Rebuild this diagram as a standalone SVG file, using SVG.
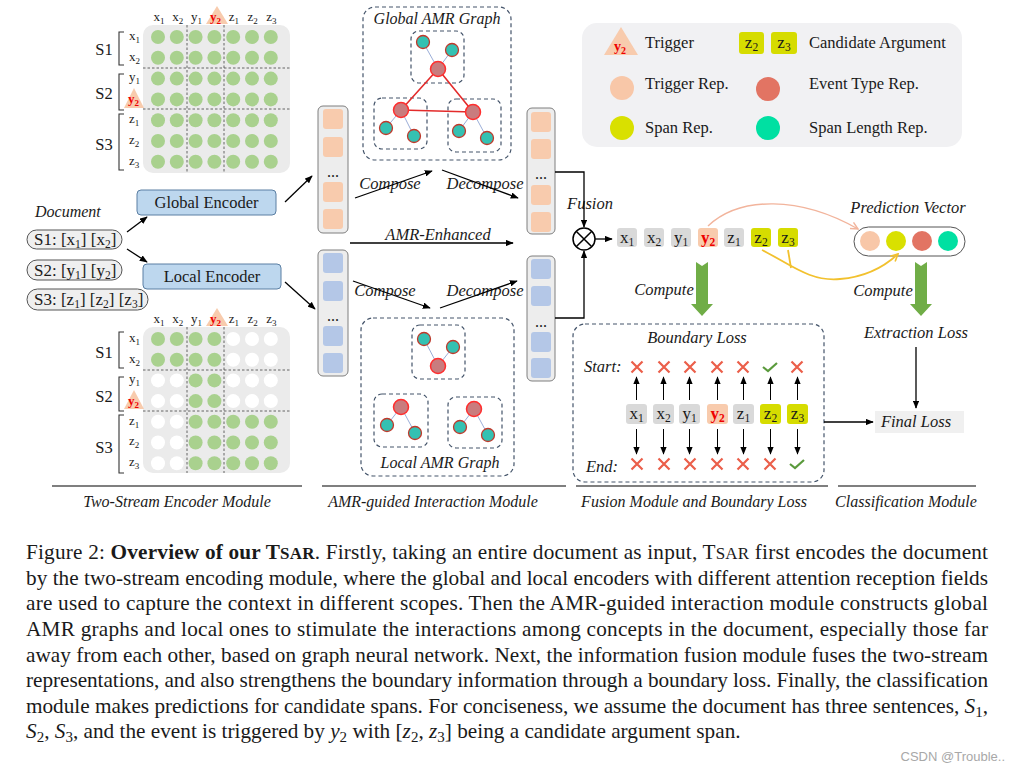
<svg xmlns="http://www.w3.org/2000/svg" xmlns:xlink="http://www.w3.org/1999/xlink" width="1017" height="771" viewBox="0 0 1017 771">
<style>
text{font-family:"Liberation Serif","Times New Roman",serif;fill:#1a1a1a}
.i{font-style:italic}
.m{font-size:13px}
.s{font-size:9px}
.gc{fill:#a9d18e}
.wc{fill:#ffffff}
.bg{fill:#ebebeb}
.tri{fill:#f8cbad}
.red{fill:#ee0000;font-weight:bold}
.grid{stroke:#555;stroke-width:0.9;stroke-dasharray:2.5 2;fill:none}
.br{stroke:#333;stroke-width:1.1;fill:none}
.dash{fill:none;stroke:#44546a;stroke-width:1.2;stroke-dasharray:4 3}
.rn{fill:#c97c7e;stroke:#ff2e2e;stroke-width:1.5}
.tn{fill:#34c1b2;stroke:#c0392b;stroke-width:1.3}
.re{stroke:#e32b2b;stroke-width:1.6}
.be{stroke:#8ea4d2;stroke-width:0.9}
.vec{fill:#ededed;stroke:#7f7f7f;stroke-width:1}
.os{fill:#f8cbad}
.bs{fill:#b4c7e7}
.ln{stroke:#000;stroke-width:1.3;fill:none}
.la{stroke:#000;stroke-width:1;fill:none}
.tok{fill:#d9d9d9}
.tky{fill:#f8cbad}
.tkz{fill:#d6dc00}
.enc{fill:#bdd7ee;stroke:#5b7fa3;stroke-width:1}
.pill{fill:#efefef;stroke:#555;stroke-width:1}
.xm{stroke:#eb5f4a;stroke-width:2.2;fill:none}
.ck{stroke:#5a9a3c;stroke-width:2.2;fill:none}
.ga{fill:#70ad47}
.cap{font-size:21.25px}
.lb{font-size:16.5px;font-style:italic}
.tk{font-size:17px}
.tks{font-size:11.5px}
</style>
<defs>
<marker id="ah" viewBox="0 0 10 8" refX="9" refY="4" markerWidth="8" markerHeight="6.4" markerUnits="userSpaceOnUse" orient="auto"><path d="M0,0 L10,4 L0,8 z" fill="#000"/></marker>
<marker id="ahO" viewBox="0 0 10 10" refX="9" refY="5" markerWidth="9" markerHeight="9" markerUnits="userSpaceOnUse" orient="auto"><path d="M1,1 L9,5 L1,9" fill="none" stroke="#f2b49c" stroke-width="1.6"/></marker>
<marker id="ahY" viewBox="0 0 10 10" refX="9" refY="5" markerWidth="9" markerHeight="9" markerUnits="userSpaceOnUse" orient="auto"><path d="M1,1 L9,5 L1,9" fill="none" stroke="#f2c12e" stroke-width="1.8"/></marker>
<g id="rowG"><circle cx="158" cy="0" r="7" class="gc"/><circle cx="176.8" cy="0" r="7" class="gc"/><circle cx="195.6" cy="0" r="7" class="gc"/><circle cx="214.4" cy="0" r="7" class="gc"/><circle cx="233.2" cy="0" r="7" class="gc"/><circle cx="252" cy="0" r="7" class="gc"/><circle cx="270.8" cy="0" r="7" class="gc"/></g>
<g id="rowA"><circle cx="158" cy="0" r="7" class="gc"/><circle cx="176.8" cy="0" r="7" class="gc"/><circle cx="195.6" cy="0" r="7" class="gc"/><circle cx="214.4" cy="0" r="7" class="gc"/><circle cx="233.2" cy="0" r="7" class="wc"/><circle cx="252" cy="0" r="7" class="wc"/><circle cx="270.8" cy="0" r="7" class="wc"/></g>
<g id="rowB"><circle cx="158" cy="0" r="7" class="wc"/><circle cx="176.8" cy="0" r="7" class="wc"/><circle cx="195.6" cy="0" r="7" class="gc"/><circle cx="214.4" cy="0" r="7" class="gc"/><circle cx="233.2" cy="0" r="7" class="wc"/><circle cx="252" cy="0" r="7" class="wc"/><circle cx="270.8" cy="0" r="7" class="wc"/></g>
<g id="rowC"><circle cx="158" cy="0" r="7" class="wc"/><circle cx="176.8" cy="0" r="7" class="wc"/><circle cx="195.6" cy="0" r="7" class="gc"/><circle cx="214.4" cy="0" r="7" class="gc"/><circle cx="233.2" cy="0" r="7" class="gc"/><circle cx="252" cy="0" r="7" class="gc"/><circle cx="270.8" cy="0" r="7" class="gc"/></g>
<g id="xmark"><path d="M-5.5,-5.5 L5.5,5.5 M5.5,-5.5 L-5.5,5.5" class="xm"/></g>
<g id="check"><path d="M-7,0 L-2,4 L7,-4" class="ck"/></g>
</defs>
<rect width="1017" height="771" fill="#ffffff"/>

<!-- Global attention matrix -->
<g id="global-matrix">
<rect x="143" y="25" width="147" height="148" rx="10" class="bg"/>
<use xlink:href="#rowG" y="37"/><use xlink:href="#rowG" y="57.8"/><use xlink:href="#rowG" y="78.6"/><use xlink:href="#rowG" y="99.4"/><use xlink:href="#rowG" y="120.2"/><use xlink:href="#rowG" y="141"/><use xlink:href="#rowG" y="161.8"/>
<path d="M187,25 V173 M224,25 V173 M143,68 H290 M143,109 H290" class="grid"/>
<polygon points="217,6 206,24 228,24" class="tri"/>
<text class="m" x="153.5" y="21">x<tspan class="s" dy="3">1</tspan></text>
<text class="m" x="172.3" y="21">x<tspan class="s" dy="3">2</tspan></text>
<text class="m" x="191.1" y="21">y<tspan class="s" dy="3">1</tspan></text>
<text class="m red" x="210" y="21">y<tspan class="s" dy="3">2</tspan></text>
<text class="m" x="228.7" y="21">z<tspan class="s" dy="3">1</tspan></text>
<text class="m" x="247.5" y="21">z<tspan class="s" dy="3">2</tspan></text>
<text class="m" x="266.3" y="21">z<tspan class="s" dy="3">3</tspan></text>
<text class="m" x="129" y="40">x<tspan class="s" dy="3">1</tspan></text>
<text class="m" x="129" y="61">x<tspan class="s" dy="3">2</tspan></text>
<text class="m" x="129" y="81">y<tspan class="s" dy="3">1</tspan></text>
<polygon points="134,88 124,108 144,108" class="tri"/>
<text class="m red" x="128" y="103">y<tspan class="s" dy="3">2</tspan></text>
<text class="m" x="129" y="123">z<tspan class="s" dy="3">1</tspan></text>
<text class="m" x="129" y="144">z<tspan class="s" dy="3">2</tspan></text>
<text class="m" x="129" y="165">z<tspan class="s" dy="3">3</tspan></text>
<path d="M124,32 H119 V65 H124 M124,74 H119 V110 H124 M124,114 H119 V170 H124" class="br"/>
<text x="104" y="55" font-size="16.5" text-anchor="middle">S1</text>
<text x="104" y="99" font-size="16.5" text-anchor="middle">S2</text>
<text x="104" y="150" font-size="16.5" text-anchor="middle">S3</text>
</g>

<!-- Local attention matrix -->
<g id="local-matrix">
<rect x="143" y="327" width="147" height="146" rx="10" class="bg"/>
<use xlink:href="#rowA" y="339"/><use xlink:href="#rowA" y="359.7"/><use xlink:href="#rowB" y="380.4"/><use xlink:href="#rowB" y="401.1"/><use xlink:href="#rowC" y="421.8"/><use xlink:href="#rowC" y="442.5"/><use xlink:href="#rowC" y="463.2"/>
<path d="M187,327 V473 M224,327 V473 M143,370 H290 M143,411 H290" class="grid"/>
<polygon points="217,308 206,326 228,326" class="tri"/>
<text class="m" x="153.5" y="323">x<tspan class="s" dy="3">1</tspan></text>
<text class="m" x="172.3" y="323">x<tspan class="s" dy="3">2</tspan></text>
<text class="m" x="191.1" y="323">y<tspan class="s" dy="3">1</tspan></text>
<text class="m red" x="210" y="323">y<tspan class="s" dy="3">2</tspan></text>
<text class="m" x="228.7" y="323">z<tspan class="s" dy="3">1</tspan></text>
<text class="m" x="247.5" y="323">z<tspan class="s" dy="3">2</tspan></text>
<text class="m" x="266.3" y="323">z<tspan class="s" dy="3">3</tspan></text>
<text class="m" x="129" y="342">x<tspan class="s" dy="3">1</tspan></text>
<text class="m" x="129" y="363">x<tspan class="s" dy="3">2</tspan></text>
<text class="m" x="129" y="383">y<tspan class="s" dy="3">1</tspan></text>
<polygon points="134,390 124,409 144,409" class="tri"/>
<text class="m red" x="128" y="405">y<tspan class="s" dy="3">2</tspan></text>
<text class="m" x="129" y="425">z<tspan class="s" dy="3">1</tspan></text>
<text class="m" x="129" y="445">z<tspan class="s" dy="3">2</tspan></text>
<text class="m" x="129" y="466">z<tspan class="s" dy="3">3</tspan></text>
<path d="M124,332 H119 V368 H124 M124,377 H119 V411 H124 M124,415 H119 V473 H124" class="br"/>
<text x="104" y="358" font-size="16.5" text-anchor="middle">S1</text>
<text x="104" y="402" font-size="16.5" text-anchor="middle">S2</text>
<text x="104" y="453" font-size="16.5" text-anchor="middle">S3</text>
</g>

<!-- Document -->
<g id="document">
<text class="i" x="35" y="217" font-size="16">Document</text>
<rect x="27" y="230" width="95" height="19" rx="9.5" class="pill"/>
<text x="34" y="245" font-size="17">S1: [x<tspan font-size="11.5" dy="3">1</tspan><tspan dy="-3">] [x</tspan><tspan font-size="11.5" dy="3">2</tspan><tspan dy="-3">]</tspan></text>
<rect x="27" y="260" width="95" height="20" rx="10" class="pill"/>
<text x="34" y="275.5" font-size="17">S2: [y<tspan font-size="11.5" dy="3">1</tspan><tspan dy="-3">] [y</tspan><tspan font-size="11.5" dy="3">2</tspan><tspan dy="-3">]</tspan></text>
<rect x="27" y="289" width="121" height="21" rx="10.5" class="pill"/>
<text x="34" y="305" font-size="17">S3: [z<tspan font-size="11.5" dy="3">1</tspan><tspan dy="-3">] [z</tspan><tspan font-size="11.5" dy="3">2</tspan><tspan dy="-3">] [z</tspan><tspan font-size="11.5" dy="3">3</tspan><tspan dy="-3">]</tspan></text>
</g>

<g id="global-encoder">
<rect x="137" y="190" width="139" height="25" rx="4" class="enc"/>
<text x="206.5" y="208" font-size="16.5" text-anchor="middle">Global Encoder</text>
</g>
<g id="local-encoder">
<rect x="143" y="264" width="138" height="25" rx="4" class="enc"/>
<text x="212" y="282" font-size="16.5" text-anchor="middle">Local Encoder</text>
</g>

<!-- Vectors -->
<g id="global-vector-in">
<rect x="318" y="106" width="30" height="127" rx="5" class="vec"/>
<rect x="323" y="109" width="20" height="20" rx="3" class="os"/>
<rect x="323" y="137" width="20" height="20" rx="3" class="os"/>
<text x="333" y="177" font-size="16" text-anchor="middle">...</text>
<rect x="323" y="182" width="20" height="20" rx="3" class="os"/>
<rect x="323" y="209" width="20" height="20" rx="3" class="os"/>
</g>
<g id="local-vector-in">
<rect x="318" y="250" width="30" height="126" rx="5" class="vec"/>
<rect x="323" y="253" width="20" height="20" rx="3" class="bs"/>
<rect x="323" y="281" width="20" height="20" rx="3" class="bs"/>
<text x="333" y="321" font-size="16" text-anchor="middle">...</text>
<rect x="323" y="326" width="20" height="20" rx="3" class="bs"/>
<rect x="323" y="353" width="20" height="20" rx="3" class="bs"/>
</g>
<g id="global-vector-out">
<rect x="527" y="108" width="28" height="126" rx="5" class="vec"/>
<rect x="531" y="112" width="20" height="20" rx="3" class="os"/>
<rect x="531" y="139" width="20" height="20" rx="3" class="os"/>
<text x="541" y="179" font-size="16" text-anchor="middle">...</text>
<rect x="531" y="185" width="20" height="20" rx="3" class="os"/>
<rect x="531" y="212" width="20" height="20" rx="3" class="os"/>
</g>
<g id="local-vector-out">
<rect x="527" y="256" width="28" height="125" rx="5" class="vec"/>
<rect x="531" y="259" width="20" height="20" rx="3" class="bs"/>
<rect x="531" y="286" width="20" height="20" rx="3" class="bs"/>
<text x="541" y="327" font-size="16" text-anchor="middle">...</text>
<rect x="531" y="332" width="20" height="20" rx="3" class="bs"/>
<rect x="531" y="358" width="20" height="20" rx="3" class="bs"/>
</g>

<!-- Global AMR graph -->
<g id="global-amr-graph">
<rect x="363" y="7" width="148" height="153" rx="12" class="dash"/>
<text class="i" x="437" y="24" font-size="16" text-anchor="middle">Global AMR Graph</text>
<rect x="411" y="31" width="53" height="52" rx="8" class="dash"/>
<rect x="374" y="98" width="53" height="51" rx="8" class="dash"/>
<rect x="448" y="99" width="53" height="53" rx="8" class="dash"/>
<path d="M438,69 L401,110 M438,69 L473,112 M401,110 L473,112" class="re"/>
<path d="M438,69 L423,42 M438,69 L452,50 M401,110 L386,128 M401,110 L414,136 M473,112 L459,131 M473,112 L487,138" class="be"/>
<circle cx="423" cy="42" r="6.5" class="tn"/><circle cx="452" cy="50" r="6.5" class="tn"/><circle cx="438" cy="69" r="7.5" class="rn"/>
<circle cx="401" cy="110" r="7.5" class="rn"/><circle cx="386" cy="128" r="6.5" class="tn"/><circle cx="414" cy="136" r="6.5" class="tn"/>
<circle cx="473" cy="112" r="7.5" class="rn"/><circle cx="459" cy="131" r="6.5" class="tn"/><circle cx="487" cy="138" r="6.5" class="tn"/>
</g>

<!-- Local AMR graph -->
<g id="local-amr-graph">
<rect x="361" y="318" width="153" height="158" rx="12" class="dash"/>
<rect x="412" y="325" width="53" height="54" rx="8" class="dash"/>
<rect x="374" y="394" width="54" height="53" rx="8" class="dash"/>
<rect x="448" y="397" width="54" height="51" rx="8" class="dash"/>
<path d="M438,366 L424,339 M438,366 L453,347 M401,407 L387,425 M401,407 L415,433 M474,409 L460,427 M474,409 L488,435" class="be"/>
<circle cx="424" cy="339" r="6.5" class="tn"/><circle cx="453" cy="347" r="6.5" class="tn"/><circle cx="438" cy="366" r="7.5" class="rn"/>
<circle cx="401" cy="407" r="7.5" class="rn"/><circle cx="387" cy="425" r="6.5" class="tn"/><circle cx="415" cy="433" r="6.5" class="tn"/>
<circle cx="474" cy="409" r="7.5" class="rn"/><circle cx="460" cy="427" r="6.5" class="tn"/><circle cx="488" cy="435" r="6.5" class="tn"/>
<text class="i" x="440" y="468" font-size="16" text-anchor="middle">Local AMR Graph</text>
</g>

<!-- Legend -->
<g id="legend">
<rect x="582" y="23" width="380" height="124" rx="15" fill="#f1f1f3"/>
<polygon points="621,27 604,55 638,55" class="tri"/>
<text class="red" x="614" y="51" font-size="14">y<tspan font-size="10" dy="3">2</tspan></text>
<text x="645" y="48" font-size="16.5">Trigger</text>
<rect x="739" y="32" width="25" height="22" rx="3" class="tkz"/>
<text x="751.5" y="48" font-size="17" text-anchor="middle">z<tspan font-size="11.5" dy="3">2</tspan></text>
<rect x="771" y="32" width="26" height="22" rx="3" class="tkz"/>
<text x="784" y="48" font-size="17" text-anchor="middle">z<tspan font-size="11.5" dy="3">3</tspan></text>
<text x="809" y="48" font-size="16.5">Candidate Argument</text>
<circle cx="622" cy="88" r="12" fill="#f8c7a8"/>
<text x="645" y="89" font-size="16.5">Trigger Rep.</text>
<circle cx="768" cy="89" r="12" fill="#e27463"/>
<text x="809" y="89" font-size="16.5">Event Type Rep.</text>
<circle cx="622" cy="128" r="12" fill="#d9e000"/>
<text x="645" y="133" font-size="16.5">Span Rep.</text>
<circle cx="768" cy="128" r="12" fill="#00e0a2"/>
<text x="809" y="133" font-size="16.5">Span Length Rep.</text>
</g>

<!-- Interaction labels -->
<g id="interaction-labels">
<text class="lb" x="390" y="189" text-anchor="middle">Compose</text>
<text class="lb" x="485" y="189" text-anchor="middle">Decompose</text>
<text class="lb" x="438" y="240" text-anchor="middle">AMR-Enhanced</text>
<text class="lb" x="385" y="296" text-anchor="middle">Compose</text>
<text class="lb" x="485" y="296" text-anchor="middle">Decompose</text>
</g>

<!-- Fusion -->
<g id="fusion-op">
<circle cx="584" cy="239" r="11" fill="#fff" stroke="#000" stroke-width="1.5"/>
<path d="M576.2,231.2 L591.8,246.8 M591.8,231.2 L576.2,246.8" stroke="#000" stroke-width="1.5"/>
<text class="lb" x="590" y="209" text-anchor="middle">Fusion</text>
</g>

<g id="fused-tokens">
<rect x="617" y="228" width="20" height="19" rx="3" class="tok"/>
<text class="tk" x="627" y="243" text-anchor="middle">x<tspan class="tks" dy="3">1</tspan></text>
<rect x="644" y="228" width="20" height="19" rx="3" class="tok"/>
<text class="tk" x="654" y="243" text-anchor="middle">x<tspan class="tks" dy="3">2</tspan></text>
<rect x="671" y="228" width="20" height="19" rx="3" class="tok"/>
<text class="tk" x="681" y="243" text-anchor="middle">y<tspan class="tks" dy="3">1</tspan></text>
<rect x="698" y="228" width="20" height="19" rx="3" class="tky"/>
<text class="tk red" x="708" y="243" text-anchor="middle">y<tspan class="tks" dy="3">2</tspan></text>
<rect x="724" y="228" width="20" height="19" rx="3" class="tok"/>
<text class="tk" x="734" y="243" text-anchor="middle">z<tspan class="tks" dy="3">1</tspan></text>
<rect x="751" y="228" width="20" height="19" rx="3" class="tkz"/>
<text class="tk" x="761" y="243" text-anchor="middle">z<tspan class="tks" dy="3">2</tspan></text>
<rect x="778" y="228" width="20" height="19" rx="3" class="tkz"/>
<text class="tk" x="788" y="243" text-anchor="middle">z<tspan class="tks" dy="3">3</tspan></text>
</g>

<g id="prediction-vector">
<text class="lb" x="908" y="213" font-size="17" text-anchor="middle">Prediction Vector</text>
<rect x="854" y="227" width="111" height="29" rx="14.5" fill="#fff" stroke="#555" stroke-width="1"/>
<circle cx="870" cy="241" r="10" fill="#f8c7a8"/>
<circle cx="896" cy="241" r="10" fill="#d9e000"/>
<circle cx="922" cy="241" r="10" fill="#e27463"/>
<circle cx="948" cy="241" r="10" fill="#00e0a2"/>
</g>

<g id="compute-arrows">
<polygon points="696,262 702,266 708,262 708,304 713,304 702,316 691,304 696,304" class="ga"/>
<text class="lb" x="664" y="295" text-anchor="middle">Compute</text>
<polygon points="915,262 921,266 927,262 927,304 932,304 921,316 910,304 915,304" class="ga"/>
<text class="lb" x="883" y="296" text-anchor="middle">Compute</text>
</g>

<!-- Boundary loss -->
<g id="boundary-loss">
<rect x="573" y="324" width="251" height="158" rx="12" class="dash"/>
<text class="lb" x="697" y="343" text-anchor="middle">Boundary Loss</text>
<text class="lb" x="584" y="372">Start:</text>
<text class="lb" x="586" y="472">End:</text>
<use xlink:href="#xmark" x="637" y="367"/><use xlink:href="#xmark" x="664" y="367"/><use xlink:href="#xmark" x="690" y="367"/><use xlink:href="#xmark" x="717" y="367"/><use xlink:href="#xmark" x="743" y="367"/><use xlink:href="#check" x="770" y="367"/><use xlink:href="#xmark" x="797" y="367"/>
<use xlink:href="#xmark" x="637" y="464"/><use xlink:href="#xmark" x="664" y="464"/><use xlink:href="#xmark" x="690" y="464"/><use xlink:href="#xmark" x="717" y="464"/><use xlink:href="#xmark" x="743" y="464"/><use xlink:href="#xmark" x="770" y="464"/><use xlink:href="#check" x="797" y="464"/>
<rect x="626" y="404" width="21" height="20" rx="3" class="tok"/>
<text class="tk" x="636.5" y="419" text-anchor="middle">x<tspan class="tks" dy="3">1</tspan></text>
<rect x="653" y="404" width="21" height="20" rx="3" class="tok"/>
<text class="tk" x="663.5" y="419" text-anchor="middle">x<tspan class="tks" dy="3">2</tspan></text>
<rect x="679" y="404" width="21" height="20" rx="3" class="tok"/>
<text class="tk" x="689.5" y="419" text-anchor="middle">y<tspan class="tks" dy="3">1</tspan></text>
<rect x="707" y="404" width="21" height="20" rx="3" class="tky"/>
<text class="tk red" x="717.5" y="419" text-anchor="middle">y<tspan class="tks" dy="3">2</tspan></text>
<rect x="733" y="404" width="21" height="20" rx="3" class="tok"/>
<text class="tk" x="743.5" y="419" text-anchor="middle">z<tspan class="tks" dy="3">1</tspan></text>
<rect x="760" y="404" width="21" height="20" rx="3" class="tkz"/>
<text class="tk" x="770.5" y="419" text-anchor="middle">z<tspan class="tks" dy="3">2</tspan></text>
<rect x="787" y="404" width="21" height="20" rx="3" class="tkz"/>
<text class="tk" x="797.5" y="419" text-anchor="middle">z<tspan class="tks" dy="3">3</tspan></text>
</g>

<g id="extraction-loss">
<text class="lb" x="916" y="338" text-anchor="middle">Extraction Loss</text>
</g>
<g id="final-loss">
<rect x="875" y="411" width="89" height="22" fill="#f0f0f0"/>
<text class="lb" x="916" y="427" text-anchor="middle">Final Loss</text>
</g>

<!-- Connectors -->
<g id="connectors">
<path d="M127,232 L147,217" class="ln" marker-end="url(#ah)"/>
<path d="M127,249 L147,262" class="ln" marker-end="url(#ah)"/>
<path d="M285,202 L312,176" class="ln" marker-end="url(#ah)"/>
<path d="M285,282 L315,309" class="ln" marker-end="url(#ah)"/>
<path d="M355,198 L432,171" class="ln" stroke-width="1.1" marker-end="url(#ah)"/>
<path d="M442,170 L518,198" class="ln" stroke-width="1.1" marker-end="url(#ah)"/>
<path d="M350,243 L513,243" class="ln" stroke-width="1.1" marker-end="url(#ah)"/>
<path d="M353,281 L430,308" class="ln" stroke-width="1.1" marker-end="url(#ah)"/>
<path d="M440,308 L517,281" class="ln" stroke-width="1.1" marker-end="url(#ah)"/>
<path d="M555,172 H584 V227" class="ln" stroke-width="1.1" marker-end="url(#ah)"/>
<path d="M555,318 H584 V251" class="ln" stroke-width="1.1" marker-end="url(#ah)"/>
<path d="M595,239 H612" class="ln" stroke-width="1.1" marker-end="url(#ah)"/>
<path d="M708,226 C740,196 800,196 858,229" fill="none" stroke="#f2b49c" stroke-width="1.4" marker-end="url(#ahO)"/>
<path d="M762,250 C790,264 810,282 840,279 C865,277 885,266 898,254" fill="none" stroke="#f2c12e" stroke-width="1.8" marker-end="url(#ahY)"/>
<path d="M788,250 L791,268" fill="none" stroke="#f2c12e" stroke-width="1.8"/>
<path d="M636.5,400 V377" class="la" marker-end="url(#ah)"/>
<path d="M663.5,400 V377" class="la" marker-end="url(#ah)"/>
<path d="M689.5,400 V377" class="la" marker-end="url(#ah)"/>
<path d="M717.5,400 V377" class="la" marker-end="url(#ah)"/>
<path d="M743.5,400 V377" class="la" marker-end="url(#ah)"/>
<path d="M770.5,400 V377" class="la" marker-end="url(#ah)"/>
<path d="M797.5,400 V377" class="la" marker-end="url(#ah)"/>
<path d="M636.5,429 V454" class="la" marker-end="url(#ah)"/>
<path d="M663.5,429 V454" class="la" marker-end="url(#ah)"/>
<path d="M689.5,429 V454" class="la" marker-end="url(#ah)"/>
<path d="M717.5,429 V454" class="la" marker-end="url(#ah)"/>
<path d="M743.5,429 V454" class="la" marker-end="url(#ah)"/>
<path d="M770.5,429 V454" class="la" marker-end="url(#ah)"/>
<path d="M797.5,429 V454" class="la" marker-end="url(#ah)"/>
<path d="M824,422 H873" class="ln" stroke-width="1.2" marker-end="url(#ah)"/>
<path d="M916,347 V408" class="ln" stroke-width="1.2" marker-end="url(#ah)"/>
</g>

<!-- Module labels -->
<g id="module-labels">
<path d="M52,486 H302 M322,486 H566 M576,486 H828 M838,486 H976" stroke="#000" stroke-width="1.2"/>
<text class="i" x="177" y="507" font-size="16" text-anchor="middle">Two-Stream Encoder Module</text>
<text class="i" x="433" y="507" font-size="16" text-anchor="middle">AMR-guided Interaction Module</text>
<text class="i" x="694" y="507" font-size="16" text-anchor="middle">Fusion Module and Boundary Loss</text>
<text class="i" x="906" y="507" font-size="16" text-anchor="middle">Classification Module</text>
</g>

<!-- Caption -->
<g id="caption">
<text class="cap" x="26" y="559" textLength="962" lengthAdjust="spacing">Figure 2: <tspan font-weight="bold">Overview of our T<tspan font-size="17">SAR</tspan></tspan>. Firstly, taking an entire document as input, T<tspan font-size="17">SAR</tspan> first encodes the document</text>
<text class="cap" x="26" y="584.5" textLength="962" lengthAdjust="spacing">by the two-stream encoding module, where the global and local encoders with different attention reception fields</text>
<text class="cap" x="26" y="610" textLength="962" lengthAdjust="spacing">are used to capture the context in different scopes.  Then the AMR-guided interaction module constructs global</text>
<text class="cap" x="26" y="636" textLength="962" lengthAdjust="spacing">AMR graphs and local ones to stimulate the interactions among concepts in the document, especially those far</text>
<text class="cap" x="26" y="661.5" textLength="962" lengthAdjust="spacing">away from each other, based on graph neural network. Next, the information fusion module fuses the two-stream</text>
<text class="cap" x="26" y="687" textLength="962" lengthAdjust="spacing">representations, and also strengthens the boundary information through a boundary loss. Finally, the classification</text>
<text class="cap" x="26" y="712.5" textLength="962" lengthAdjust="spacing">module makes predictions for candidate spans. For conciseness, we assume the document has three sentences, <tspan class="i">S</tspan><tspan font-size="15" dy="4">1</tspan><tspan dy="-4">,</tspan></text>
<text class="cap" x="26" y="738"><tspan class="i">S</tspan><tspan font-size="15" dy="4">2</tspan><tspan dy="-4">, </tspan><tspan class="i">S</tspan><tspan font-size="15" dy="4">3</tspan><tspan dy="-4">, and the event is triggered by </tspan><tspan class="i">y</tspan><tspan font-size="15" dy="4">2</tspan><tspan dy="-4"> with [</tspan><tspan class="i">z</tspan><tspan font-size="15" dy="4">2</tspan><tspan dy="-4">, </tspan><tspan class="i">z</tspan><tspan font-size="15" dy="4">3</tspan><tspan dy="-4">] being a candidate argument span.</tspan></text>
<text x="1005" y="761" font-size="13" text-anchor="end" style="font-family:'Liberation Sans',Arial,sans-serif;fill:#a8a8a8">CSDN @Trouble..</text>
</g>
</svg>
